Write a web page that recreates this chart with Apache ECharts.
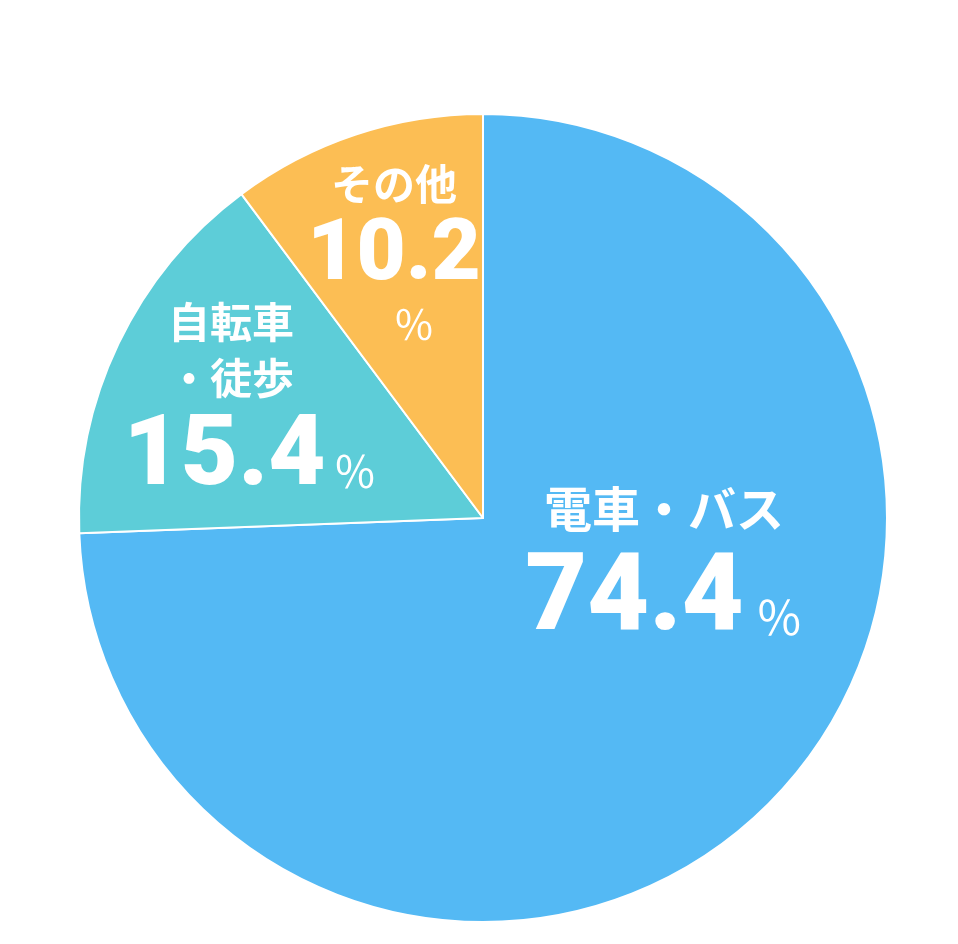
<!DOCTYPE html>
<html><head><meta charset="utf-8">
<script src="https://cdn.jsdelivr.net/npm/echarts@6/dist/echarts.min.js"></script>
<style>html,body{margin:0;padding:0;background:#fff}#c{width:958px;height:944px}</style>
</head><body><div id="c"></div>
<script>
var categories = ['電車・バス', '自転車\n・徒歩', 'その他'];
var values = [74.4, 15.4, 10.2];
var colors = ['#54b9f4', '#5dcdd8', '#fcbe54'];

var chart = echarts.init(document.getElementById('c'), null, {renderer: 'canvas'});
var cjk = '"Noto Sans CJK JP", sans-serif';
var num = 'Roboto, "Noto Sans", sans-serif';
var labelPos = [[664, 476], [250, 294], [394, 158]];

chart.setOption({
  animation: false,
  series: [{
    type: 'pie',
    center: [483, 518],
    radius: [0, 404],
    startAngle: 90,
    clockwise: true,
    silent: true,
    itemStyle: {borderColor: '#fff', borderWidth: 2},
    labelLine: {show: false},
    label: {
      show: true,
      position: 'inside',
      color: '#fff',
      formatter: function (p) {
        var i = p.dataIndex;
        var names = p.name.split('\n');
        var v = p.value.toFixed(1);
        if (i === 0) return '{n0|' + names[0] + '}\n{v0|' + v + '}{p0|％}';
        if (i === 1) return '{n1|' + names[0] + '}\n{n1|' + names[1] + '}\n{v1|' + v + '}{p1|％}';
        return '{n2|' + names[0] + '}\n{v2|' + v + '}\n{p2|％}';
      },
      rich: {
        n0: {fontFamily: cjk, fontWeight: 'bold', fontSize: 48, lineHeight: 66, color: '#fff'},
        v0: {fontFamily: num, fontWeight: 900, fontSize: 107, lineHeight: 120, color: '#fff'},
        p0: {fontFamily: cjk, fontWeight: 'normal', fontSize: 47, lineHeight: 120, color: '#fff', padding: [30, 0, 0, 12]},
        n1: {fontFamily: cjk, fontWeight: 'bold', fontSize: 42, lineHeight: 56, color: '#fff', padding: [0, 38, 0, 0]},
        v1: {fontFamily: num, fontWeight: 900, fontSize: 99, lineHeight: 106, color: '#fff'},
        p1: {fontFamily: cjk, fontWeight: 'normal', fontSize: 43, lineHeight: 106, color: '#fff', padding: [26, 0, 0, 8]},
        n2: {fontFamily: cjk, fontWeight: 'bold', fontSize: 42, lineHeight: 52, color: '#fff'},
        v2: {fontFamily: num, fontWeight: 900, fontSize: 85, lineHeight: 96, color: '#fff'},
        p2: {fontFamily: cjk, fontWeight: 'normal', fontSize: 41, lineHeight: 36, color: '#fff', padding: [0, 0, 0, 40]}
      }
    },
    labelLayout: function (params) {
      var pos = labelPos[params.dataIndex];
      return {x: pos[0], y: pos[1], align: 'center', verticalAlign: 'top'};
    },
    data: categories.map(function (c, i) {
      return {name: c, value: values[i], itemStyle: {color: colors[i]}};
    })
  }]
});
</script></body></html>
